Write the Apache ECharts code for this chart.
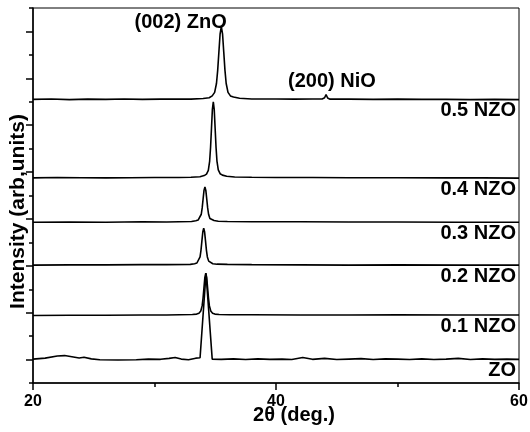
<!DOCTYPE html>
<html>
<head>
<meta charset="utf-8">
<script src="https://cdn.jsdelivr.net/npm/echarts@6.0.0/dist/echarts.min.js"></script>
<style>
html, body { margin: 0; padding: 0; background: #fff; }
#chart { width: 530px; height: 432px; }
</style>
</head>
<body>
<div id="chart"></div>
<script>
// sample names, bottom to top
const samples = ['ZO', '0.1 NZO', '0.2 NZO', '0.3 NZO', '0.4 NZO', '0.5 NZO'];

// XRD traces [2theta, stacked intensity]
const zo = [[20, 1.02], [21, 1.06], [22, 1.15], [22.6, 1.17], [23.2, 1.12], [23.8, 1.07], [24.2, 1.1], [24.8, 1.03],
	[25.5, 0.99], [27, 0.98], [28.5, 0.99], [29.5, 1.02], [30.5, 1.01], [31.2, 1.05], [31.7, 1.09], [32.2, 1.02],
	[32.8, 0.99], [33.4, 1.06], [33.75, 1.08], [34.24, 4.68], [34.75, 1.02], [35.5, 1.01], [36.5, 1.03], [37.5, 1.0],
	[38.5, 1.03], [39.5, 1.01], [40.5, 1.02], [41.3, 1.0], [42.2, 1.09], [43, 1.01], [44, 1.05], [45, 1.0], [46, 1.02],
	[47, 1.04], [48, 1.0], [49, 1.03], [50, 1.02], [51, 1.0], [52, 1.03], [53, 1.0], [54, 1.02], [55, 1.05], [56, 1.0],
	[57, 1.03], [58, 1.01], [59, 1.02], [60, 1.01]];
const nzo1 = [[20, 2.88], [23, 2.89], [26, 2.89], [29, 2.9], [31, 2.9], [33.12, 2.92], [33.47, 2.94], [33.66, 2.98],
	[33.81, 3.07], [33.92, 3.29], [33.995, 3.61], [34.07, 4.06], [34.145, 4.51], [34.22, 4.69], [34.295, 4.51],
	[34.37, 4.06], [34.445, 3.61], [34.52, 3.29], [34.63, 3.07], [34.78, 2.98], [34.97, 2.94], [35.32, 2.92],
	[36.2, 2.91], [38, 2.91], [42, 2.9], [46, 2.9], [50, 2.91], [55, 2.9], [60, 2.9]];
const nzo2 = [[20, 5.03], [23, 5.04], [26, 5.04], [29, 5.05], [31, 5.05], [32.95, 5.06], [33.3, 5.09], [33.49, 5.12],
	[33.64, 5.2], [33.75, 5.38], [33.825, 5.66], [33.9, 6.05], [33.975, 6.44], [34.05, 6.6], [34.125, 6.44],
	[34.2, 6.05], [34.275, 5.66], [34.35, 5.38], [34.46, 5.2], [34.61, 5.12], [34.8, 5.09], [35.15, 5.07],
	[36, 5.06], [38, 5.05], [42, 5.04], [46, 5.03], [50, 5.04], [55, 5.03], [60, 5.03]];
const nzo3 = [[20, 6.86], [23, 6.87], [26, 6.86], [29, 6.88], [31, 6.87], [33.05, 6.89], [33.4, 6.92], [33.59, 6.95],
	[33.74, 7.02], [33.85, 7.2], [33.925, 7.47], [34.0, 7.85], [34.075, 8.22], [34.15, 8.37], [34.225, 8.22],
	[34.3, 7.85], [34.375, 7.47], [34.45, 7.2], [34.56, 7.02], [34.71, 6.96], [34.9, 6.93], [35.25, 6.9],
	[36, 6.89], [38, 6.88], [42, 6.88], [46, 6.87], [50, 6.87], [55, 6.86], [60, 6.86]];
const nzo4 = [[20, 8.75], [22, 8.77], [24, 8.76], [26, 8.75], [28, 8.76], [30, 8.77], [32, 8.77], [33, 8.78],
	[33.74, 8.8], [34.09, 8.85], [34.28, 8.91], [34.43, 9.07], [34.54, 9.47], [34.615, 10.06], [34.69, 10.87],
	[34.765, 11.68], [34.84, 12.0], [34.915, 11.68], [34.99, 10.87], [35.065, 10.06], [35.14, 9.47], [35.25, 9.09],
	[35.4, 8.93], [35.59, 8.87], [35.94, 8.82], [36.6, 8.79], [38, 8.78], [40, 8.77], [43, 8.77], [46, 8.76],
	[50, 8.76], [54, 8.75], [57, 8.75], [60, 8.74]];
const nzo5 = [[20, 12.1], [21.5, 12.12], [23, 12.09], [24.5, 12.11], [26, 12.1], [27.5, 12.12], [29, 12.1],
	[30.5, 12.11], [32, 12.12], [33, 12.11], [34, 12.14], [34.5, 12.17], [34.75, 12.25], [34.95, 12.4], [35.1, 12.78],
	[35.2, 13.34], [35.3, 14.12], [35.4, 14.9], [35.5, 15.2], [35.6, 14.9], [35.7, 14.12], [35.8, 13.34], [35.9, 12.78],
	[36.05, 12.4], [36.25, 12.25], [36.5, 12.2], [37, 12.15], [38, 12.12], [40, 12.12], [41.5, 12.11], [43, 12.12],
	[43.8, 12.12], [44, 12.17], [44.12, 12.31], [44.25, 12.16], [44.45, 12.11], [46, 12.11], [48, 12.1], [50, 12.11],
	[52, 12.1], [54, 12.1], [56, 12.09], [58, 12.1], [60, 12.09]];

// peak annotations
const peakNames = ['(002) ZnO', '(200) NiO'];
const peakNameAt = [[32.15, 15.4], [44.6, 12.88]];

// y ticks (long / short)
const yMajorTicks = [1, 3, 5, 7, 9, 11, 13, 15];
const yMinorTicks = [0, 2, 4, 6, 8, 10, 12, 14, 16];

const traces = [zo, nzo1, nzo2, nzo3, nzo4, nzo5];
const font = 'bold 20px "Liberation Sans", Arial, sans-serif';
const black = '#000';

const myChart = echarts.init(document.getElementById('chart'));

const option = {
	animation: false,
	grid: {
		left: 33, right: 11, top: 8, bottom: 49,
		show: true, borderColor: black, borderWidth: 1,
		outerBoundsMode: 'none'
	},
	xAxis: {
		type: 'value', min: 20, max: 60, interval: 20,
		axisLine: { lineStyle: { color: black, width: 1.5 } },
		axisTick: { length: 7, lineStyle: { color: black, width: 1.5 } },
		minorTick: { show: true, splitNumber: 2, length: 4, lineStyle: { color: black, width: 1.5 } },
		splitLine: { show: false },
		axisLabel: { color: black, fontFamily: 'Liberation Sans', fontWeight: 'bold', fontSize: 16, margin: 11 },
		name: '2θ (deg.)', nameLocation: 'middle', nameGap: 22, nameMoveOverlap: false,
		nameTextStyle: { color: black, fontFamily: 'Liberation Sans', fontWeight: 'bold', fontSize: 20, padding: [0, 0, 0, 36] }
	},
	yAxis: [{
		type: 'value', min: 0, max: 16, position: 'left',
		axisLine: { show: true, lineStyle: { color: black, width: 1.5 } },
		axisTick: { show: true, customValues: yMajorTicks, length: 7, lineStyle: { color: black, width: 1.5 } },
		axisLabel: { show: false },
		splitLine: { show: false },
		name: 'Intensity (arb,units)', nameLocation: 'middle', nameGap: 4, nameMoveOverlap: false,
		nameTextStyle: { color: black, fontFamily: 'Liberation Sans', fontWeight: 'bold', fontSize: 21, padding: [0, 32, 0, 0] }
	}, {
		type: 'value', min: 0, max: 16, position: 'left', offset: 0,
		axisLine: { show: false },
		axisTick: { show: true, customValues: yMinorTicks, length: 4, lineStyle: { color: black, width: 1.5 } },
		axisLabel: { show: false },
		splitLine: { show: false }
	}],
	series: traces.map((d, i) => ({
		name: samples[i],
		type: 'line',
		data: d,
		showSymbol: false,
		symbol: 'none',
		lineStyle: { color: black, width: 1.6 },
		z: 2
	}))
};
myChart.setOption(option);

// sample labels under each trace end, peak names
const texts = [];
traces.forEach((d, i) => {
	const p = myChart.convertToPixel({ gridIndex: 0 }, d[d.length - 1]);
	texts.push({
		type: 'text', x: p[0] - 3, y: p[1] + 11, z: 10,
		style: { text: samples[i], font: font, fill: black, align: 'right', verticalAlign: 'middle' }
	});
});
peakNames.forEach((n, i) => {
	const p = myChart.convertToPixel({ gridIndex: 0 }, peakNameAt[i]);
	texts.push({
		type: 'text', x: p[0], y: p[1], z: 10,
		style: { text: n, font: font, fill: black, align: 'center', verticalAlign: 'middle' }
	});
});
myChart.setOption({ graphic: texts });
</script>
</body>
</html>
